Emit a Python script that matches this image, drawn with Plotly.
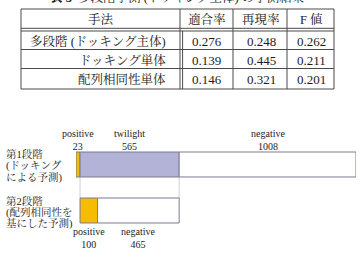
import plotly.graph_objects as go

# ---------------- data ----------------
table_title_bold = "表 3"
table_title_rest = "多段階予測 (ドッキング主体) の予測結果"
header = ["手法", "適合率", "再現率", "F 値"]
methods = ["多段階 (ドッキング主体)", "ドッキング単体", "配列相同性単体"]
precision = [0.276, 0.139, 0.146]
recall = [0.248, 0.445, 0.321]
fscore = [0.262, 0.211, 0.201]

stage_labels = [
    ["第1段階", "(ドッキング", "による予測)"],
    ["第2段階", "(配列相同性を", "基にした予測)"],
]
stage1_names = ["positive", "twilight", "negative"]
stage1_values = [23, 565, 1008]
stage2_names = ["positive", "negative"]
stage2_values = [100, 465]

# ---------------- styles ----------------
W, H = 360, 258
FONT = "Liberation Serif, Noto Serif CJK JP, Noto Sans CJK JP, serif"
TXT = "#1c1c1c"
LINE = "#4a4a4a"
colors = {"positive": "#F7BC00", "twilight": "#B3B3D7", "negative": "#FFFFFF"}
BAR_EDGE = "#7b7b92"
BAR_W = 0.543


def px(x):
    return x / W


def py(y):
    return 1 - y / H


fig = go.Figure()
annotations = []
shapes = []

# ---------------- table ----------------
annotations.append(dict(
    text=f"<b>{table_title_bold}</b>  {table_title_rest}", x=px(177), y=py(6.5),
    xref="paper", yref="paper", xanchor="center", yanchor="bottom",
    showarrow=False, font=dict(family=FONT, size=12.5, color=TXT)))

tx0, tx1 = 21, 334
col_x = [180, 233, 287]
row_top, head_bot, dbl2 = 9, 28.3, 31
row_bounds = [31, 49.5, 68.5, 89]

def hline(y, x0=tx0, x1=tx1):
    shapes.append(dict(type="line", xref="paper", yref="paper",
                       x0=px(x0), x1=px(x1), y0=py(y), y1=py(y),
                       line=dict(color=LINE, width=1)))

def vline(x, y0, y1):
    shapes.append(dict(type="line", xref="paper", yref="paper",
                       x0=px(x), x1=px(x), y0=py(y0), y1=py(y1),
                       line=dict(color=LINE, width=1)))

hline(row_top)
hline(head_bot)
hline(dbl2)
for yb in row_bounds[1:]:
    hline(yb)
vline(tx0, row_top, row_bounds[-1])
vline(tx1, row_top, row_bounds[-1])
for cx in col_x:
    vline(cx, row_top, row_bounds[-1])
vline(col_x[0] + 2.6, dbl2, row_bounds[-1])

num_cx = [207, 261, 311]
head_cx = [100.5] + num_cx
for h, cx in zip(header, head_cx):
    annotations.append(dict(text=h, x=px(cx), y=py(19.5), xref="paper", yref="paper",
                            xanchor="center", yanchor="middle", showarrow=False,
                            font=dict(family=FONT, size=12.5, color=TXT)))

row_cy = [41.5, 60.5, 79.5]
for i, cy in enumerate(row_cy):
    annotations.append(dict(text=methods[i], x=px(168), y=py(cy), xref="paper", yref="paper",
                            xanchor="right", yanchor="middle", showarrow=False,
                            font=dict(family=FONT, size=12.5, color=TXT)))
    for vals, cx in zip([precision, recall, fscore], num_cx):
        annotations.append(dict(text=f"{vals[i]:.3f}", x=px(cx), y=py(cy), xref="paper",
                                yref="paper", xanchor="center", yanchor="middle",
                                showarrow=False, font=dict(family=FONT, size=13, color=TXT)))

# ---------------- bars ----------------
stage2_start = stage1_values[0]
segments = []
b = 0
for n, v in zip(stage1_names, stage1_values):
    segments.append((0, n, v, b))
    b += v
b = stage2_start
for n, v in zip(stage2_names, stage2_values):
    segments.append((1, n, v, b))
    b += v

for row, n, v, base in segments:
    fig.add_trace(go.Bar(
        x=[v], y=[row], base=[base], orientation="h", width=BAR_W,
        marker=dict(color=colors[n], line=dict(color=BAR_EDGE, width=1)),
        showlegend=False, hoverinfo="skip"))
    if row == 0:
        annotations.append(dict(text=f"{n}<br>{v}", x=base + v / 2, y=row - BAR_W / 2,
                                xref="x", yref="y", xanchor="center", yanchor="bottom",
                                showarrow=False, yshift=-2,
                                font=dict(family=FONT, size=10, color=TXT)))
    else:
        annotations.append(dict(text=f"{n}<br>{v}", x=base + v / 2, y=row + BAR_W / 2,
                                xref="x", yref="y", xanchor="center", yanchor="top",
                                showarrow=False, yshift=-1,
                                font=dict(family=FONT, size=10, color=TXT)))

# guide lines from twilight segment down to stage 2
for xv in [stage2_start, stage2_start + sum(stage2_values)]:
    shapes.append(dict(type="line", xref="x", yref="y", x0=xv, x1=xv,
                       y0=BAR_W / 2, y1=1 - BAR_W / 2, layer="below",
                       line=dict(color="#cfcfcf", width=1)))

# stage labels (left)
label_y = [[154, 165.5, 177], [201, 212, 223]]
for lines, ys in zip(stage_labels, label_y):
    for t, yy in zip(lines, ys):
        annotations.append(dict(text=t, x=px(4), y=py(yy), xref="paper", yref="paper",
                                xanchor="left", yanchor="middle", showarrow=False,
                                font=dict(family=FONT, size=10.5, color=TXT)))

fig.update_layout(
    width=W, height=H, autosize=False,
    margin=dict(l=0, r=0, t=0, b=0),
    paper_bgcolor="white", plot_bgcolor="white",
    barmode="overlay",
    xaxis=dict(domain=[px(76), px(356)], range=[0, sum(stage1_values)],
               visible=False, fixedrange=True),
    yaxis=dict(domain=[py(233.5), py(141.5)], range=[1.5, -0.5],
               visible=False, fixedrange=True),
    shapes=shapes, annotations=annotations,
)

fig.write_html("out.html")
